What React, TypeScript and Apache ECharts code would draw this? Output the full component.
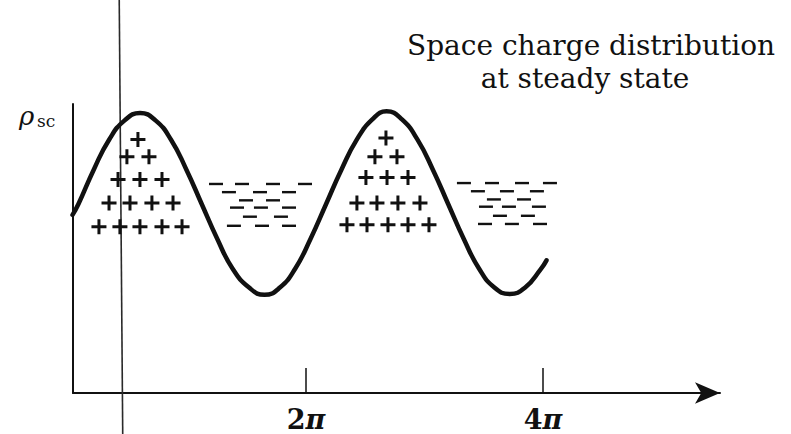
import React, { useEffect, useRef } from "react";
import * as echarts from "echarts";

// Phase axis is in units of π; charge density is in units of its amplitude.
const phaseTicks = [2, 4];
const phaseMin = 0.034;
const phaseMax = 5.494;
const rhoMin = -2.08;
const rhoMax = 1.1;

// Position of the vertical reference line (phase, units of π)
const referencePhase = 0.441;

// Space charge density curve
const curvePhase = [
  0.03, 0.08, 0.21, 0.34, 0.47, 0.6, 0.73, 0.86, 0.99, 1.12, 1.25, 1.38, 1.52, 1.65, 1.78, 1.91,
  2.04, 2.17, 2.3, 2.43, 2.56, 2.68, 2.81, 2.94, 3.07, 3.2, 3.33, 3.46, 3.59, 3.72, 3.85, 3.98, 4.03,
];
const curveRho = [
  -0.12, 0.0, 0.38, 0.71, 0.92, 1.0, 0.92, 0.71, 0.38, 0.0, -0.38, -0.71, -0.92, -1.0, -0.92, -0.71,
  -0.38, 0.0, 0.38, 0.71, 0.93, 1.02, 0.93, 0.71, 0.38, 0.0, -0.38, -0.71, -0.92, -0.99, -0.92, -0.72, -0.62,
];

// Positive charges (triangular stacks under each crest)
const positiveFirst: [number, number][] = [
  [0.582, 0.71],
  [0.489, 0.52], [0.675, 0.52],
  [0.414, 0.27], [0.599, 0.27], [0.785, 0.27],
  [0.338, 0.01], [0.515, 0.01], [0.7, 0.01], [0.878, 0.01],
  [0.253, -0.25], [0.43, -0.25], [0.599, -0.25], [0.785, -0.25], [0.954, -0.25],
];
const positiveSecond: [number, number][] = [
  [2.675, 0.725],
  [2.582, 0.52], [2.768, 0.52],
  [2.506, 0.29], [2.684, 0.29], [2.861, 0.29],
  [2.43, 0.01], [2.599, 0.01], [2.776, 0.01], [2.962, 0.01],
  [2.346, -0.23], [2.515, -0.23], [2.692, -0.23], [2.861, -0.23], [3.038, -0.23],
];

// Negative charges (staggered rows around each trough's phase)
const negativeFirst: [number, number][] = [
  [1.241, 0.22], [1.46, 0.22], [1.722, 0.22], [1.992, 0.22],
  [1.35, 0.13], [1.612, 0.13], [1.857, 0.13],
  [1.494, 0.04], [1.722, 0.04],
  [1.418, -0.04], [1.62, -0.04], [1.857, -0.04],
  [1.527, -0.14], [1.789, -0.14],
  [1.392, -0.24], [1.629, -0.24], [1.857, -0.24],
];
const negativeSecond: [number, number][] = [
  [3.333, 0.23], [3.57, 0.23], [3.823, 0.23], [4.059, 0.23],
  [3.451, 0.14], [3.696, 0.14], [3.949, 0.14],
  [3.586, 0.05], [3.84, 0.05],
  [3.519, -0.03], [3.713, -0.03], [3.966, -0.03],
  [3.637, -0.13], [3.873, -0.13],
  [3.511, -0.22], [3.738, -0.22], [3.975, -0.22],
];

const INK = "#111111";
const SERIF = "'DejaVu Serif', 'Liberation Serif', serif";
const PLUS_PATH = "path://M5.6,0H8.4V5.6H14V8.4H8.4V14H5.6V8.4H0V5.6H5.6Z";

export default function App() {
  const ref = useRef<HTMLDivElement>(null);

  useEffect(() => {
    if (!ref.current) return;
    const chart = echarts.init(ref.current, null, { renderer: "svg" });

    const option: any = {
      animation: false,
      backgroundColor: "#ffffff",
      grid: { left: 73, right: 71, top: 104, bottom: 41, containLabel: false },
      xAxis: {
        type: "value",
        min: phaseMin,
        max: phaseMax,
        splitLine: { show: false },
        axisLine: {
          show: true,
          onZero: false,
          symbol: ["none", "arrow"],
          symbolSize: [16, 25],
          lineStyle: { color: INK, width: 2 },
        },
        axisTick: {
          show: true,
          inside: true,
          length: 25,
          customValues: phaseTicks,
          lineStyle: { color: INK, width: 1.5 },
        },
        axisLabel: {
          show: true,
          customValues: phaseTicks,
          margin: 14,
          formatter: (v: number) => `{n|${v}}{p|π}`,
          rich: {
            n: { fontFamily: SERIF, fontSize: 27, lineHeight: 24, color: INK, fontWeight: "bold" },
            p: {
              fontFamily: SERIF,
              fontSize: 27,
              lineHeight: 24,
              color: INK,
              fontStyle: "italic",
              fontWeight: "bold",
            },
          },
        },
      },
      yAxis: {
        type: "value",
        min: rhoMin,
        max: rhoMax,
        splitLine: { show: false },
        axisLine: { show: true, onZero: false, lineStyle: { color: INK, width: 2 } },
        axisTick: { show: false },
        axisLabel: { show: false },
      },
      series: [
        {
          type: "line",
          data: curvePhase.map((p, i) => [p, curveRho[i]]),
          smooth: true,
          showSymbol: false,
          lineStyle: { color: INK, width: 4.5, cap: "round", join: "round" },
          z: 3,
        },
        {
          type: "scatter",
          data: [...positiveFirst, ...positiveSecond],
          symbol: PLUS_PATH,
          symbolSize: 15,
          itemStyle: { color: INK, opacity: 1 },
          z: 2,
        },
        {
          type: "scatter",
          data: [...negativeFirst, ...negativeSecond],
          symbol: "rect",
          symbolSize: [14, 2.4],
          itemStyle: { color: INK, opacity: 1 },
          z: 2,
        },
      ],
      graphic: [
        {
          id: "title1",
          type: "text",
          x: 591,
          y: 45,
          style: {
            text: "Space charge distribution",
            fontFamily: SERIF,
            fontSize: 28,
            fill: INK,
            align: "center",
            verticalAlign: "middle",
          },
        },
        {
          id: "title2",
          type: "text",
          x: 585,
          y: 78,
          style: {
            text: "at steady state",
            fontFamily: SERIF,
            fontSize: 28,
            fill: INK,
            align: "center",
            verticalAlign: "middle",
          },
        },
        {
          id: "rho",
          type: "text",
          x: 19,
          y: 116,
          style: {
            text: "ρ",
            fontFamily: SERIF,
            fontSize: 26,
            fontStyle: "italic",
            fill: INK,
            align: "left",
            verticalAlign: "middle",
          },
        },
        {
          id: "rhoSub",
          type: "text",
          x: 37,
          y: 121,
          style: {
            text: "sc",
            fontFamily: SERIF,
            fontSize: 17,
            fill: INK,
            align: "left",
            verticalAlign: "middle",
          },
        },
      ],
    };

    chart.setOption(option);

    const refX = chart.convertToPixel({ xAxisIndex: 0 }, referencePhase) as number;
    chart.setOption({
      graphic: [
        {
          id: "refLine",
          type: "line",
          shape: { x1: refX - 2, y1: 0, x2: refX + 1.5, y2: 434 },
          style: { stroke: "#2a2a2a", lineWidth: 1.6 },
          z: 1,
        },
      ],
    });

    return () => chart.dispose();
  }, []);

  return <div ref={ref} style={{ width: 791, height: 434, position: "absolute", left: 0, top: 0 }} />;
}
